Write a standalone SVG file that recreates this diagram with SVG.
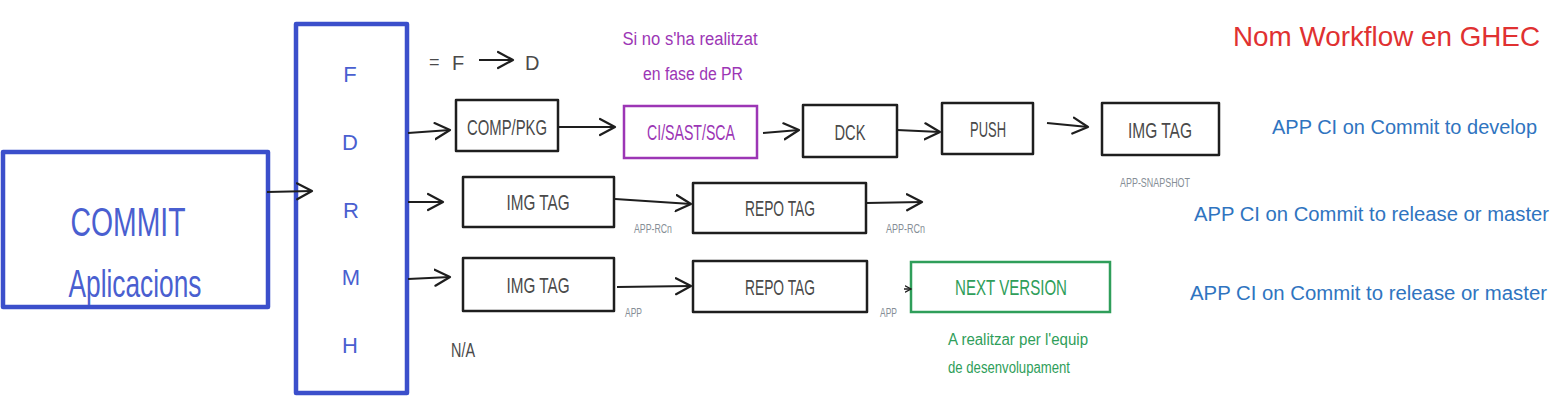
<svg xmlns="http://www.w3.org/2000/svg" width="1553" height="420" viewBox="0 0 1553 420">
<style>
text{font-family:"Liberation Sans",Arial,sans-serif}
.box{fill:none;stroke:#1e1e1e;stroke-width:2.5;stroke-linejoin:round}
.bbox{fill:none;stroke:#3b4fcb;stroke-width:4.5;stroke-linejoin:round}
.lbl{fill:#4a4a4a;font-size:22px;text-anchor:middle}
.blt{fill:#4a5fd0;font-size:22px;text-anchor:middle}
.sm{fill:#868e96;font-size:13px}
.con{fill:none;stroke:#1e1e1e;stroke-width:2;marker-end:url(#ah)}
.blue{fill:#2f74c0;font-size:20px}
.purp{fill:#9c36b5;font-size:18px;text-anchor:middle}
.grn{fill:#2f9e5a;font-size:16px}
</style>
<defs>
<marker id="ah" viewBox="-16 -10 18 20" refX="0" refY="0" markerWidth="18" markerHeight="20" markerUnits="userSpaceOnUse" orient="auto">
<path d="M-15,-8 L0,0 L-15,8" fill="none" stroke="#1e1e1e" stroke-width="2.2" stroke-linecap="round" stroke-linejoin="round"/>
</marker>
<marker id="ahs" viewBox="-16 -10 18 20" refX="0" refY="0" markerWidth="7" markerHeight="8" markerUnits="userSpaceOnUse" orient="auto">
<path d="M-15,-8 L0,0 L-15,8" fill="none" stroke="#1e1e1e" stroke-width="3" stroke-linecap="round"/>
</marker>
</defs>
<rect width="1553" height="420" fill="#ffffff"/>

<g id="commit">
<rect class="bbox" x="3" y="152" width="265" height="155"/>
<text x="128" y="236" style="fill:#4a5fd0;font-size:40px;text-anchor:middle" textLength="115" lengthAdjust="spacingAndGlyphs">COMMIT</text>
<text x="135" y="297" style="fill:#4a5fd0;font-size:38px;text-anchor:middle" textLength="133" lengthAdjust="spacingAndGlyphs">Aplicacions</text>
</g>

<g id="branches">
<rect class="bbox" x="296" y="24" width="111" height="369"/>
<text class="blt" x="350" y="82">F</text>
<text class="blt" x="350" y="150">D</text>
<text class="blt" x="351" y="218">R</text>
<text class="blt" x="351" y="285">M</text>
<text class="blt" x="350" y="353">H</text>
</g>

<g id="legend">
<text x="429" y="68" style="fill:#4a4a4a;font-size:18px">=</text>
<text x="452" y="70" style="fill:#4a4a4a;font-size:20px">F</text>
<text x="525" y="70" style="fill:#4a4a4a;font-size:20px">D</text>
<line class="con" x1="479" y1="60" x2="513" y2="60"/>
</g>

<g id="comp-pkg">
<rect class="box" x="456" y="100" width="102" height="51"/>
<text class="lbl" x="507" y="135" textLength="80" lengthAdjust="spacingAndGlyphs">COMP/PKG</text>
</g>
<g id="ci-sast-sca">
<rect x="624" y="106" width="133" height="52" style="fill:none;stroke:#9c36b5;stroke-width:2.5"/>
<text class="lbl" x="691" y="140" style="fill:#9c36b5" textLength="88" lengthAdjust="spacingAndGlyphs">CI/SAST/SCA</text>
</g>
<g id="pr-note">
<text class="purp" x="690" y="45" textLength="135" lengthAdjust="spacingAndGlyphs">Si no s'ha realitzat</text>
<text class="purp" x="693" y="80" textLength="100" lengthAdjust="spacingAndGlyphs">en fase de PR</text>
</g>
<g id="dck">
<rect class="box" x="803" y="105" width="94" height="52"/>
<text class="lbl" x="850" y="140" textLength="31" lengthAdjust="spacingAndGlyphs">DCK</text>
</g>
<g id="push">
<rect class="box" x="942" y="103" width="91" height="51"/>
<text class="lbl" x="988" y="137" textLength="36" lengthAdjust="spacingAndGlyphs">PUSH</text>
</g>
<g id="img-tag-1">
<rect class="box" x="1102" y="103" width="117" height="52"/>
<text class="lbl" x="1160" y="138" textLength="64" lengthAdjust="spacingAndGlyphs">IMG TAG</text>
<text class="sm" x="1120" y="187" textLength="70" lengthAdjust="spacingAndGlyphs">APP-SNAPSHOT</text>
</g>

<g id="img-tag-2">
<rect class="box" x="463" y="177" width="151" height="50"/>
<text class="lbl" x="538" y="210" textLength="63" lengthAdjust="spacingAndGlyphs">IMG TAG</text>
</g>
<g id="repo-tag-2">
<rect class="box" x="693" y="183" width="173" height="50"/>
<text class="lbl" x="780" y="216" textLength="70" lengthAdjust="spacingAndGlyphs">REPO TAG</text>
</g>
<text class="sm" x="634" y="233" textLength="38" lengthAdjust="spacingAndGlyphs">APP-RCn</text>
<text class="sm" x="886" y="233" textLength="39" lengthAdjust="spacingAndGlyphs">APP-RCn</text>

<g id="img-tag-3">
<rect class="box" x="463" y="258" width="151" height="53"/>
<text class="lbl" x="538" y="293" textLength="63" lengthAdjust="spacingAndGlyphs">IMG TAG</text>
</g>
<g id="repo-tag-3">
<rect class="box" x="693" y="261" width="174" height="51"/>
<text class="lbl" x="780" y="295" textLength="70" lengthAdjust="spacingAndGlyphs">REPO TAG</text>
</g>
<text class="sm" x="625" y="317" textLength="17" lengthAdjust="spacingAndGlyphs">APP</text>
<text class="sm" x="880" y="317" textLength="17" lengthAdjust="spacingAndGlyphs">APP</text>
<g id="next-version">
<rect x="911" y="262" width="199" height="50" style="fill:none;stroke:#2f9e5a;stroke-width:2.5"/>
<text class="lbl" x="1011" y="295" style="fill:#2f9e5a" textLength="112" lengthAdjust="spacingAndGlyphs">NEXT VERSION</text>
</g>
<g id="dev-note">
<text class="grn" x="948" y="345" textLength="140" lengthAdjust="spacingAndGlyphs">A realitzar per l'equip</text>
<text class="grn" x="948" y="373" textLength="122" lengthAdjust="spacingAndGlyphs">de desenvolupament</text>
</g>
<text x="451" y="357" style="fill:#4a4a4a;font-size:20px" textLength="24" lengthAdjust="spacingAndGlyphs">N/A</text>

<g id="titles">
<text x="1233" y="46" style="fill:#e03131;font-size:28px" textLength="307" lengthAdjust="spacingAndGlyphs">Nom Workflow en GHEC</text>
<text class="blue" x="1272" y="134" textLength="265" lengthAdjust="spacingAndGlyphs">APP CI on Commit to develop</text>
<text class="blue" x="1194" y="221" textLength="355" lengthAdjust="spacingAndGlyphs">APP CI on Commit to release or master</text>
<text class="blue" x="1190" y="300" textLength="357" lengthAdjust="spacingAndGlyphs">APP CI on Commit to release or master</text>
</g>

<g id="connectors">
<line class="con" x1="267" y1="192" x2="312" y2="191"/>
<line class="con" x1="408" y1="133" x2="450" y2="130"/>
<line class="con" x1="408" y1="202" x2="443" y2="202"/>
<line class="con" x1="408" y1="279" x2="450" y2="277"/>
<line class="con" x1="558" y1="127" x2="615" y2="127"/>
<line class="con" x1="763" y1="133" x2="799" y2="130"/>
<line class="con" x1="897" y1="130" x2="940" y2="132"/>
<line class="con" x1="1047" y1="123" x2="1088" y2="127"/>
<line class="con" x1="615" y1="199" x2="691" y2="204"/>
<line class="con" x1="866" y1="203" x2="922" y2="202"/>
<line class="con" x1="617" y1="287" x2="691" y2="286"/>
<line x1="904" y1="289" x2="911" y2="289" style="fill:none;stroke:#1e1e1e;stroke-width:1.5;marker-end:url(#ahs)"/>
</g>
</svg>
